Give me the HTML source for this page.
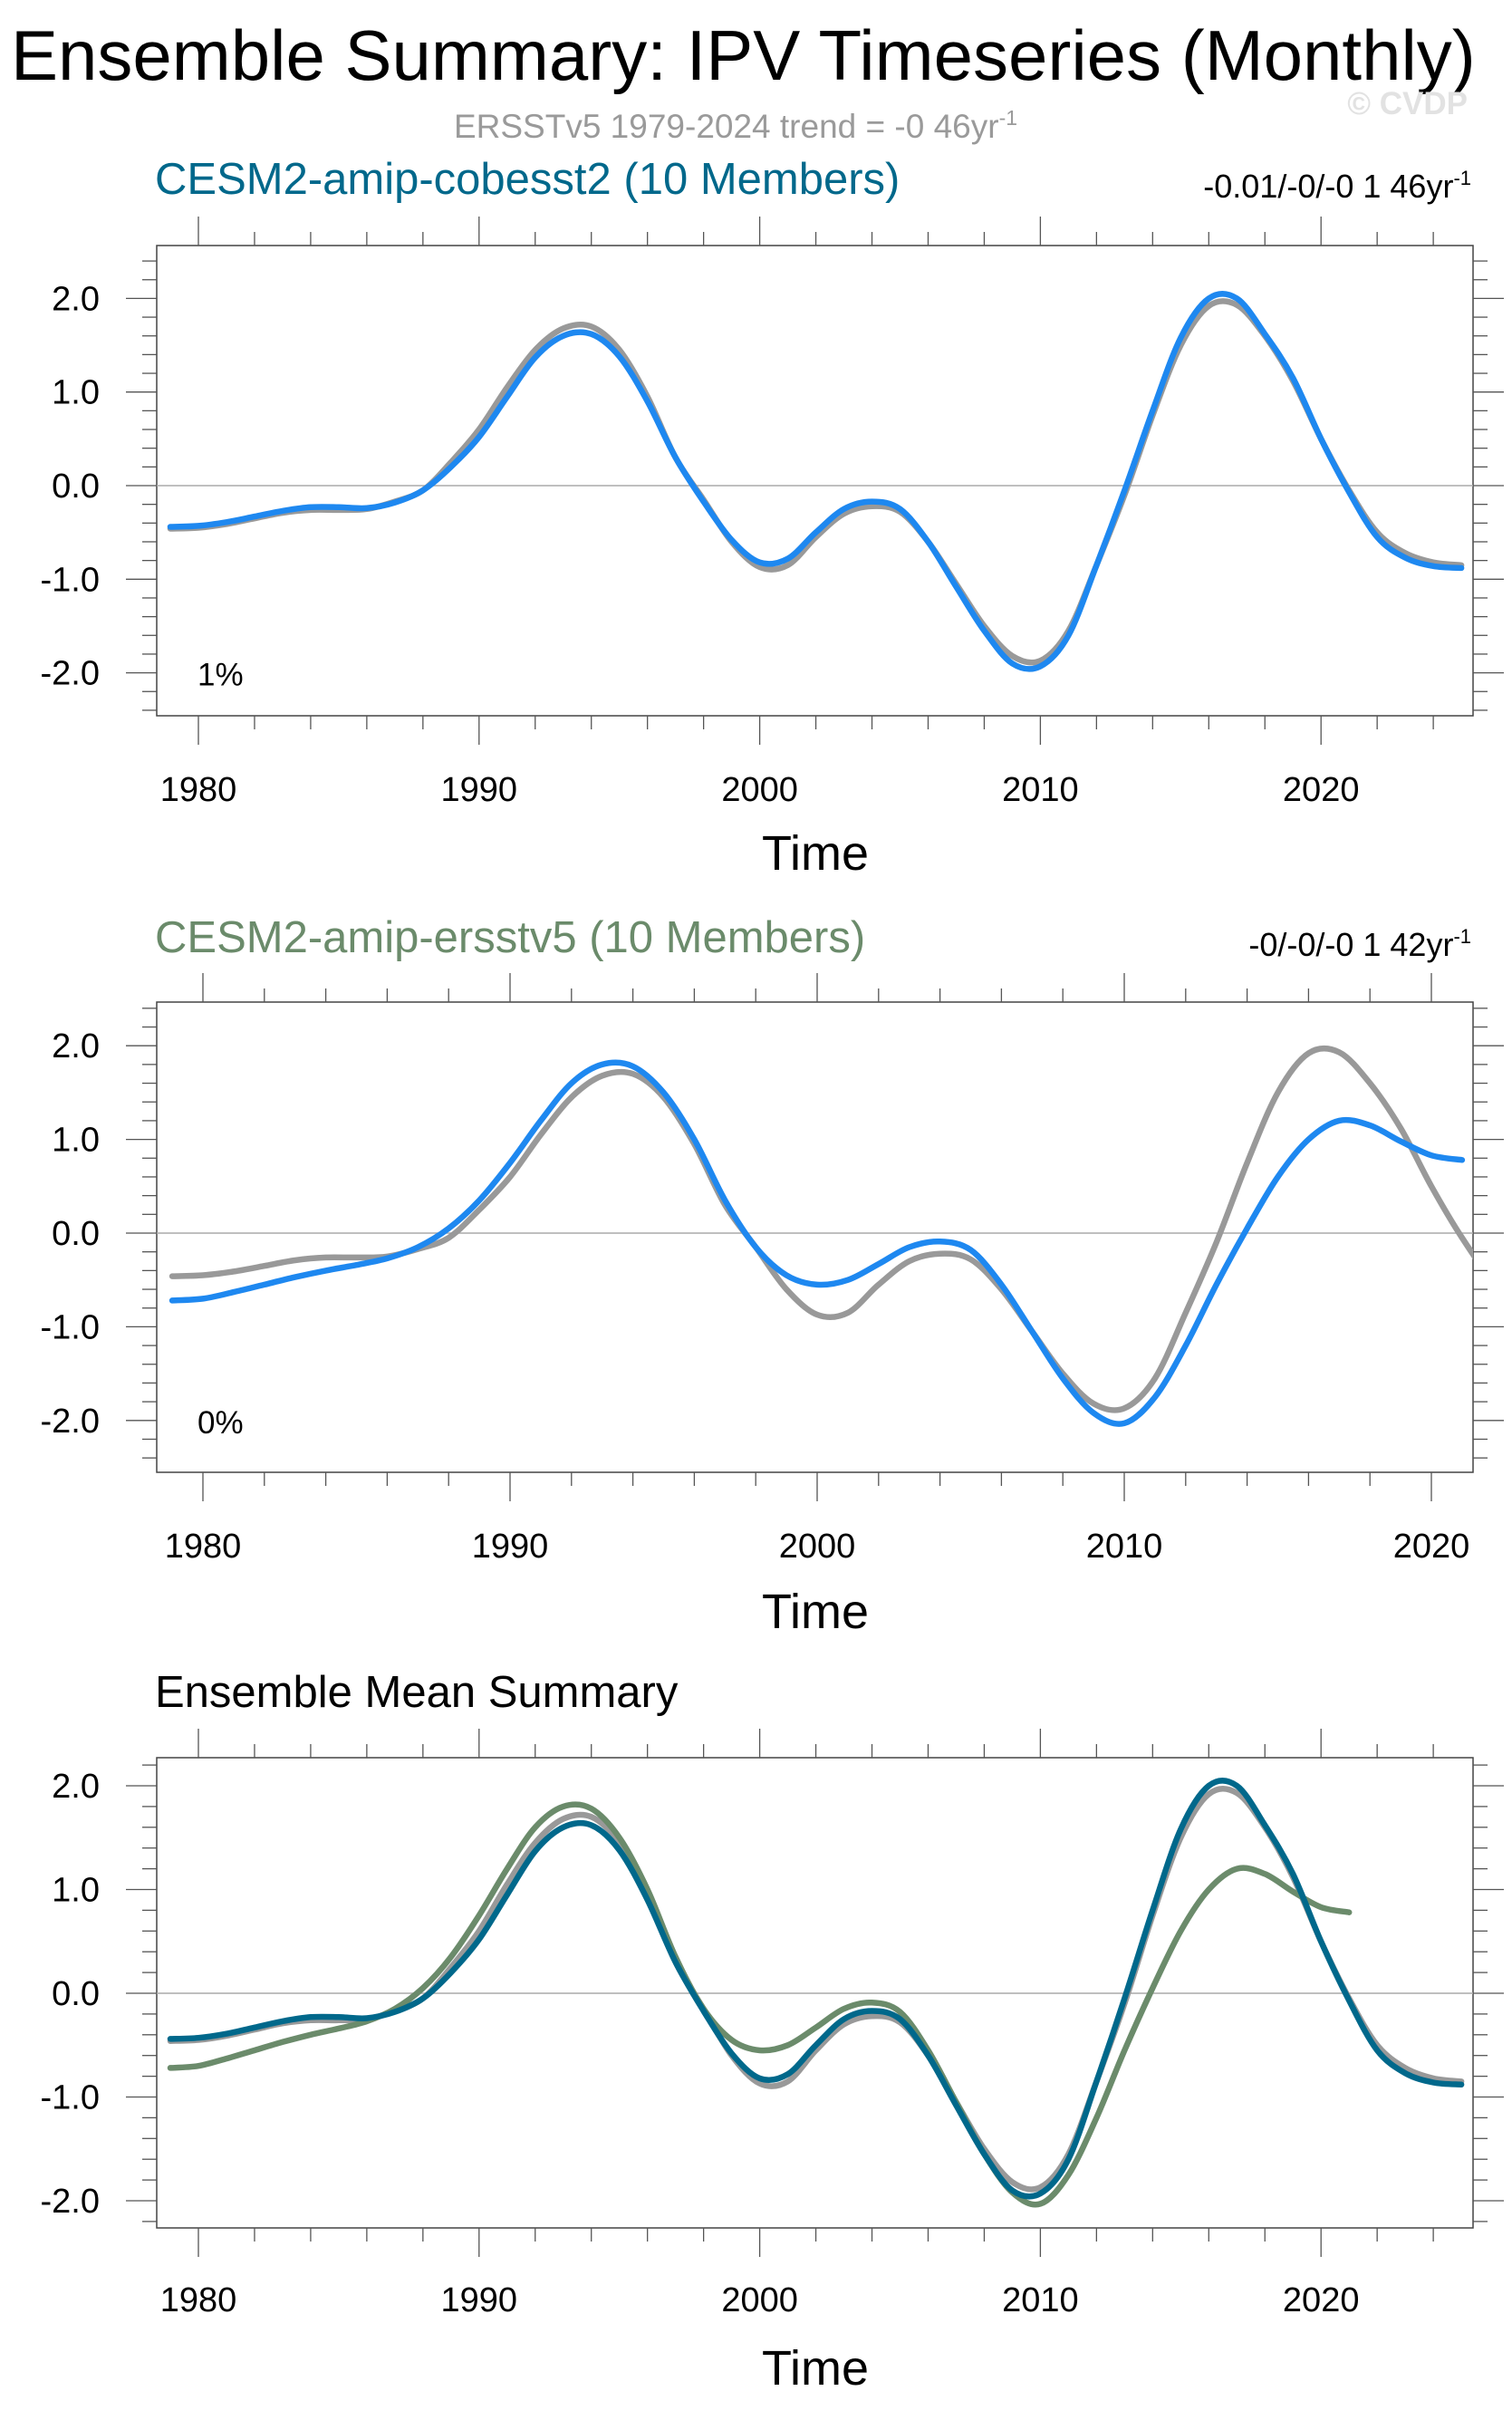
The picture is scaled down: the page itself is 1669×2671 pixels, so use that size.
<!DOCTYPE html>
<html><head><meta charset="utf-8"><style>
html,body{margin:0;padding:0;background:#fff;}
svg text{font-family:"Liberation Sans",sans-serif;}
</style></head><body>
<svg id="root" xmlns="http://www.w3.org/2000/svg" width="1669" height="2666" viewBox="0 0 1669 2666">
<text x="12" y="88" font-size="78" fill="#000">Ensemble Summary: IPV Timeseries (Monthly)</text>
<text x="1620" y="126" font-size="35" fill="#e2e2e2" text-anchor="end" font-weight="bold">© CVDP</text>
<text x="812" y="152" font-size="37" fill="#9a9a9a" text-anchor="middle">ERSSTv5 1979-2024 trend = -0 46yr<tspan dy="-14" font-size="23">-1</tspan></text>
<g id="p1"></g>
<g id="p2"></g>
<g id="p3"></g>
</svg>
<script>
const years = [];
for (let y = 1979; y <= 2025; y++) years.push(y);
const ersstObs = [-0.46,-0.45,-0.41,-0.35,-0.29,-0.26,-0.26,-0.25,-0.17,-0.05,0.25,0.6,1.05,1.45,1.68,1.7,1.45,0.95,0.3,-0.15,-0.6,-0.87,-0.85,-0.55,-0.3,-0.22,-0.28,-0.6,-1.05,-1.5,-1.82,-1.87,-1.55,-0.85,-0.1,0.75,1.5,1.92,1.93,1.6,1.12,0.5,-0.05,-0.5,-0.72,-0.82,-0.85];
const cobeMean = [-0.44,-0.43,-0.39,-0.33,-0.27,-0.23,-0.23,-0.24,-0.18,-0.05,0.2,0.52,0.95,1.37,1.6,1.62,1.38,0.9,0.3,-0.17,-0.58,-0.82,-0.78,-0.5,-0.25,-0.17,-0.25,-0.6,-1.08,-1.55,-1.9,-1.93,-1.6,-0.85,-0.05,0.8,1.58,2.0,2.0,1.62,1.15,0.5,-0.07,-0.55,-0.77,-0.86,-0.88];
const ersstMean = [-0.72,-0.7,-0.63,-0.55,-0.47,-0.4,-0.34,-0.27,-0.15,0.05,0.35,0.75,1.2,1.6,1.8,1.78,1.5,1.0,0.35,-0.15,-0.45,-0.55,-0.5,-0.33,-0.15,-0.09,-0.18,-0.55,-1.05,-1.55,-1.92,-2.03,-1.75,-1.2,-0.55,0.05,0.6,1.0,1.2,1.15,0.98,0.83,0.78];
const yTickVals = [-2,-1,0,1,2];
const yTickLabels = ["-2.0","-1.0","0.0","1.0","2.0"];
const xTickVals = [1980,1990,2000,2010,2020];
const xTickLabels = ["1980","1990","2000","2010","2020"];

const NS = "http://www.w3.org/2000/svg";
function mk(parent, tag, attrs){const e=document.createElementNS(NS,tag);for(const k in attrs)e.setAttribute(k,attrs[k]);parent.appendChild(e);return e;}

function smoothPath(pts){
  let d="M"+pts[0][0].toFixed(1)+","+pts[0][1].toFixed(1);
  for(let i=0;i<pts.length-1;i++){
    const p0=pts[Math.max(0,i-1)],p1=pts[i],p2=pts[i+1],p3=pts[Math.min(pts.length-1,i+2)];
    const c1=[p1[0]+(p2[0]-p0[0])/6,p1[1]+(p2[1]-p0[1])/6];
    const c2=[p2[0]-(p3[0]-p1[0])/6,p2[1]-(p3[1]-p1[1])/6];
    d+="C"+c1[0].toFixed(1)+","+c1[1].toFixed(1)+" "+c2[0].toFixed(1)+","+c2[1].toFixed(1)+" "+p2[0].toFixed(1)+","+p2[1].toFixed(1);
  }
  return d;
}

function panel(g, cfg){
  const L=cfg.left,R=cfg.right,T=cfg.top,B=cfg.bottom;
  const xs=yr=>cfg.x1980+(yr-1980)*cfg.pxYr;
  const ys=v=>cfg.y0-v*cfg.unit;
  const t=mk(g,"text",{x:171,y:cfg.titleY,"font-size":49,fill:cfg.titleColor});
  
  
  t.textContent=cfg.title;
  if(cfg.trend){
    const tr=mk(g,"text",{x:1624,y:cfg.titleY+4,"font-size":36,fill:"#000","text-anchor":"end"});
    
    
    tr.textContent=cfg.trend;
    const sp=mk(tr,"tspan",{dy:-14,"font-size":22});sp.textContent="-1";
  }
  const box=mk(g,"rect",{x:L,y:T,width:R-L,height:B-T,fill:"none",stroke:"#444","stroke-width":1.5});
  
  
  const ticks=mk(g,"g",{stroke:"#555","stroke-width":1.3});
  
  
  for(let yr=1980;yr<=2024;yr+=2){
    const x=xs(yr); if(x<L||x>R)continue;
    const len=(yr%10===0)?32:15;
    mk(ticks,"line",{x1:x,y1:T,x2:x,y2:T-len});
    mk(ticks,"line",{x1:x,y1:B,x2:x,y2:B+len});
  }
  for(let k=-12;k<=12;k++){
    const v=k*0.2,y=ys(v); if(y<T||y>B)continue;
    const len=(k%5===0)?34:16;
    mk(ticks,"line",{x1:L,y1:y,x2:L-len,y2:y});
    mk(ticks,"line",{x1:R,y1:y,x2:R+len,y2:y});
  }
  yTickVals.forEach((v,i)=>{
    const tx=mk(g,"text",{x:110,y:ys(v)+13,"font-size":38,"text-anchor":"end",fill:"#000"});
    
    
    tx.textContent=yTickLabels[i];
  });
  xTickVals.forEach((v,i)=>{
    const tx=mk(g,"text",{x:xs(v),y:cfg.xlabY,"font-size":38,"text-anchor":"middle",fill:"#000"});
    
    
    tx.textContent=xTickLabels[i];
  });
  const xt=mk(g,"text",{x:900,y:cfg.timeY,"font-size":54,"text-anchor":"middle",fill:"#000"});
  
  
  xt.textContent="Time";
  const zl=mk(g,"line",{x1:L,y1:ys(0),x2:R,y2:ys(0),stroke:"#aaa","stroke-width":1.5});
  
  
  if(cfg.pct){
    const p=mk(g,"text",{x:218,y:ys(-2)+14,"font-size":35,fill:"#000"});
    
    
    p.textContent=cfg.pct;
  }
  const clipId="c"+cfg.id;
  const cp=mk(g,"clipPath",{id:clipId});mk(cp,"rect",{x:L,y:T,width:R-L,height:B-T});
  cfg.series.forEach(s=>{
    const pts=s.vals.map((v,i)=>[xs(years[i]),ys(v)]);
    const path=mk(g,"path",{d:smoothPath(pts),fill:"none",stroke:s.color,"stroke-width":6.5,"stroke-linecap":"round","clip-path":"url(#"+clipId+")"});
    
    
  });
}
const GRAY="#999999",BLUE="#1e88f0",TEAL="#00688b",GREEN="#6b8b6b";
panel(document.getElementById("p1"),{id:1,left:173,right:1626,top:271,bottom:790,x1980:219,pxYr:30.98,y0:536,unit:103.3,
 titleY:214,title:"CESM2-amip-cobesst2 (10 Members)",titleColor:TEAL,trend:"-0.01/-0/-0 1 46yr",pct:"1%",xlabY:884,timeY:960,
 series:[{name:"obs-ersstv5-line",vals:ersstObs,color:GRAY},{name:"cobesst2-mean-line",vals:cobeMean,color:BLUE}]});
panel(document.getElementById("p2"),{id:2,left:173,right:1626,top:1106,bottom:1625,x1980:224,pxYr:33.9,y0:1361,unit:103.4,
 titleY:1051,title:"CESM2-amip-ersstv5 (10 Members)",titleColor:GREEN,trend:"-0/-0/-0 1 42yr",pct:"0%",xlabY:1719,timeY:1797,
 series:[{name:"obs-ersstv5-line",vals:ersstObs,color:GRAY},{name:"ersstv5-mean-line",vals:ersstMean,color:BLUE}]});
panel(document.getElementById("p3"),{id:3,left:173,right:1626,top:1940,bottom:2459,x1980:219,pxYr:30.98,y0:2200,unit:114.5,
 titleY:1884,title:"Ensemble Mean Summary",titleColor:"#000",trend:null,pct:null,xlabY:2551,timeY:2632,
 series:[{name:"obs-ersstv5-line",vals:ersstObs,color:GRAY},{name:"ersstv5-mean-line",vals:ersstMean,color:GREEN},{name:"cobesst2-mean-line",vals:cobeMean,color:TEAL}]});
</script>
</body></html>
